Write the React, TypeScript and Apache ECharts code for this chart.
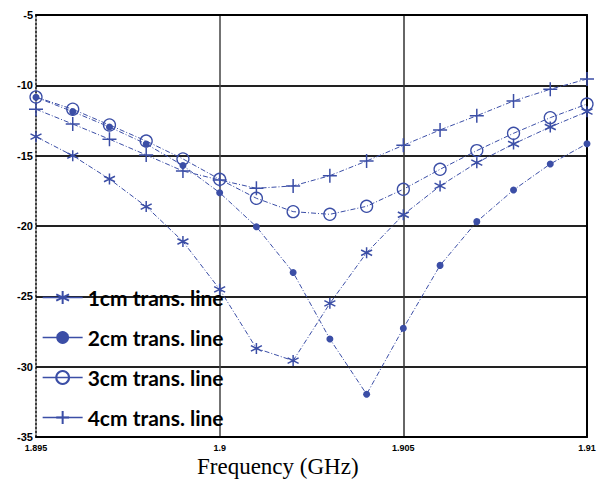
import React, { useEffect, useRef } from "react";
import * as echarts from "echarts";

const freqs = [1.895, 1.896, 1.897, 1.898, 1.899, 1.9, 1.901, 1.902, 1.903, 1.904, 1.905, 1.906, 1.907, 1.908, 1.909, 1.91];
const seriesNames = ["1cm trans. line", "2cm trans. line", "3cm trans. line", "4cm trans. line"];
const line1cm = [-13.65, -15.0, -16.66, -18.62, -21.1, -24.5, -28.7, -29.57, -25.5, -21.9, -19.2, -17.15, -15.5, -14.17, -12.96, -11.87];
const line2cm = [-10.85, -11.87, -12.96, -14.17, -15.7, -17.63, -20.05, -23.3, -28.03, -31.96, -27.27, -22.8, -19.69, -17.44, -15.59, -14.15];
const line3cm = [-10.83, -11.7, -12.82, -13.96, -15.23, -16.68, -18.03, -18.98, -19.17, -18.6, -17.39, -15.97, -14.64, -13.41, -12.3, -11.33];
const line4cm = [-11.7, -12.75, -13.83, -14.95, -16.09, -16.73, -17.32, -17.15, -16.42, -15.38, -14.26, -13.17, -12.16, -11.11, -10.28, -9.55];
const xTickLabels = ["1.895", "1.9", "1.905", "1.91"];
const xAxisTitle = "Frequency (GHz)";

const BLUE = "#3b4ea6";
const DASH = [5, 2, 1, 2];

export default function App() {
  const ref = useRef<HTMLDivElement>(null);
  useEffect(() => {
    if (!ref.current) return;
    document.body.style.margin = "0";
    const chart = echarts.init(ref.current, null, { renderer: "svg" });
    const pair = (vals: number[]) => vals.map((v, i) => [freqs[i], v]);
    const asterisk = "path://M0,-1L0,1M-0.866,-0.5L0.866,0.5M-0.866,0.5L0.866,-0.5";
    const plus = "path://M0,-1L0,1M-1,0L1,0";
    const mk = (name: string, data: number[], symbol: string, size: number, item: any) => ({
      name,
      type: "line",
      data: pair(data),
      symbol,
      symbolSize: size,
      showSymbol: true,
      lineStyle: { color: BLUE, width: 1, type: DASH },
      itemStyle: item,
      emphasis: { disabled: true },
    });
    chart.setOption({
      animation: false,
      grid: { left: 36, right: 29, top: 15, bottom: 44 },
      legend: {
        orient: "vertical",
        left: 37,
        top: 282,
        itemWidth: 40,
        itemHeight: 16,
        itemGap: 19,
        data: seriesNames,
        lineStyle: { type: "solid", width: 1.3, color: BLUE },
        textStyle: { fontFamily: "Lato", fontWeight: "bold", fontSize: 21, color: "#000" },
      },
      xAxis: [
        {
          type: "value",
          min: 1.895,
          max: 1.91,
          interval: 0.005,
          axisLine: { show: true, onZero: false, lineStyle: { color: "#000", width: 2 } },
          axisTick: { show: false },
          axisLabel: {
            margin: 6,
            fontFamily: "Liberation Sans",
            fontWeight: "bold",
            fontSize: 9,
            color: "#000",
            formatter: (v: number) => {
              const idx = Math.round((v - 1.895) / 0.005);
              return xTickLabels[idx] ?? "";
            },
          },
          splitLine: { show: true, lineStyle: { color: ["transparent", "#444", "#333", "#000"], width: 1.5 } },
        },
        {
          type: "value",
          position: "top",
          min: 1.895,
          max: 1.91,
          axisLine: { show: true, lineStyle: { color: "#000", width: 2 } },
          axisTick: { show: false },
          axisLabel: { show: false },
          splitLine: { show: false },
        },
      ],
      yAxis: [
        {
          type: "value",
          min: -35,
          max: -5,
          interval: 5,
          axisLine: { show: true, onZero: false, lineStyle: { color: "#000", width: 1.5, type: [2, 2] } },
          axisTick: { show: false },
          axisLabel: {
            margin: 3,
            fontFamily: "Liberation Sans",
            fontWeight: "bold",
            fontSize: 11,
            color: "#000",
          },
          splitLine: { show: true, lineStyle: { color: "#222", width: 2 } },
        },
        {
          type: "value",
          position: "right",
          min: -35,
          max: -5,
          axisLine: { show: true, lineStyle: { color: "#000", width: 2 } },
          axisTick: { show: false },
          axisLabel: { show: false },
          splitLine: { show: false },
        },
      ],
      graphic: [
        {
          type: "text",
          left: 197,
          top: 455,
          style: { text: xAxisTitle, fontFamily: "Liberation Serif", fontSize: 23, fill: "#000" },
        },
      ],
      series: [
        mk(seriesNames[0], line1cm, asterisk, 11, { color: BLUE, borderColor: BLUE, borderWidth: 1.5 }),
        mk(seriesNames[1], line2cm, "circle", 7, { color: BLUE, borderColor: BLUE, borderWidth: 0 }),
        mk(seriesNames[2], line3cm, "circle", 12, { color: "rgba(255,255,255,0)", borderColor: BLUE, borderWidth: 1.3 }),
        mk(seriesNames[3], line4cm, plus, 14, { color: BLUE, borderColor: BLUE, borderWidth: 1.5 }),
      ],
    });
    return () => chart.dispose();
  }, []);
  return <div ref={ref} style={{ width: 616, height: 481 }} />;
}
